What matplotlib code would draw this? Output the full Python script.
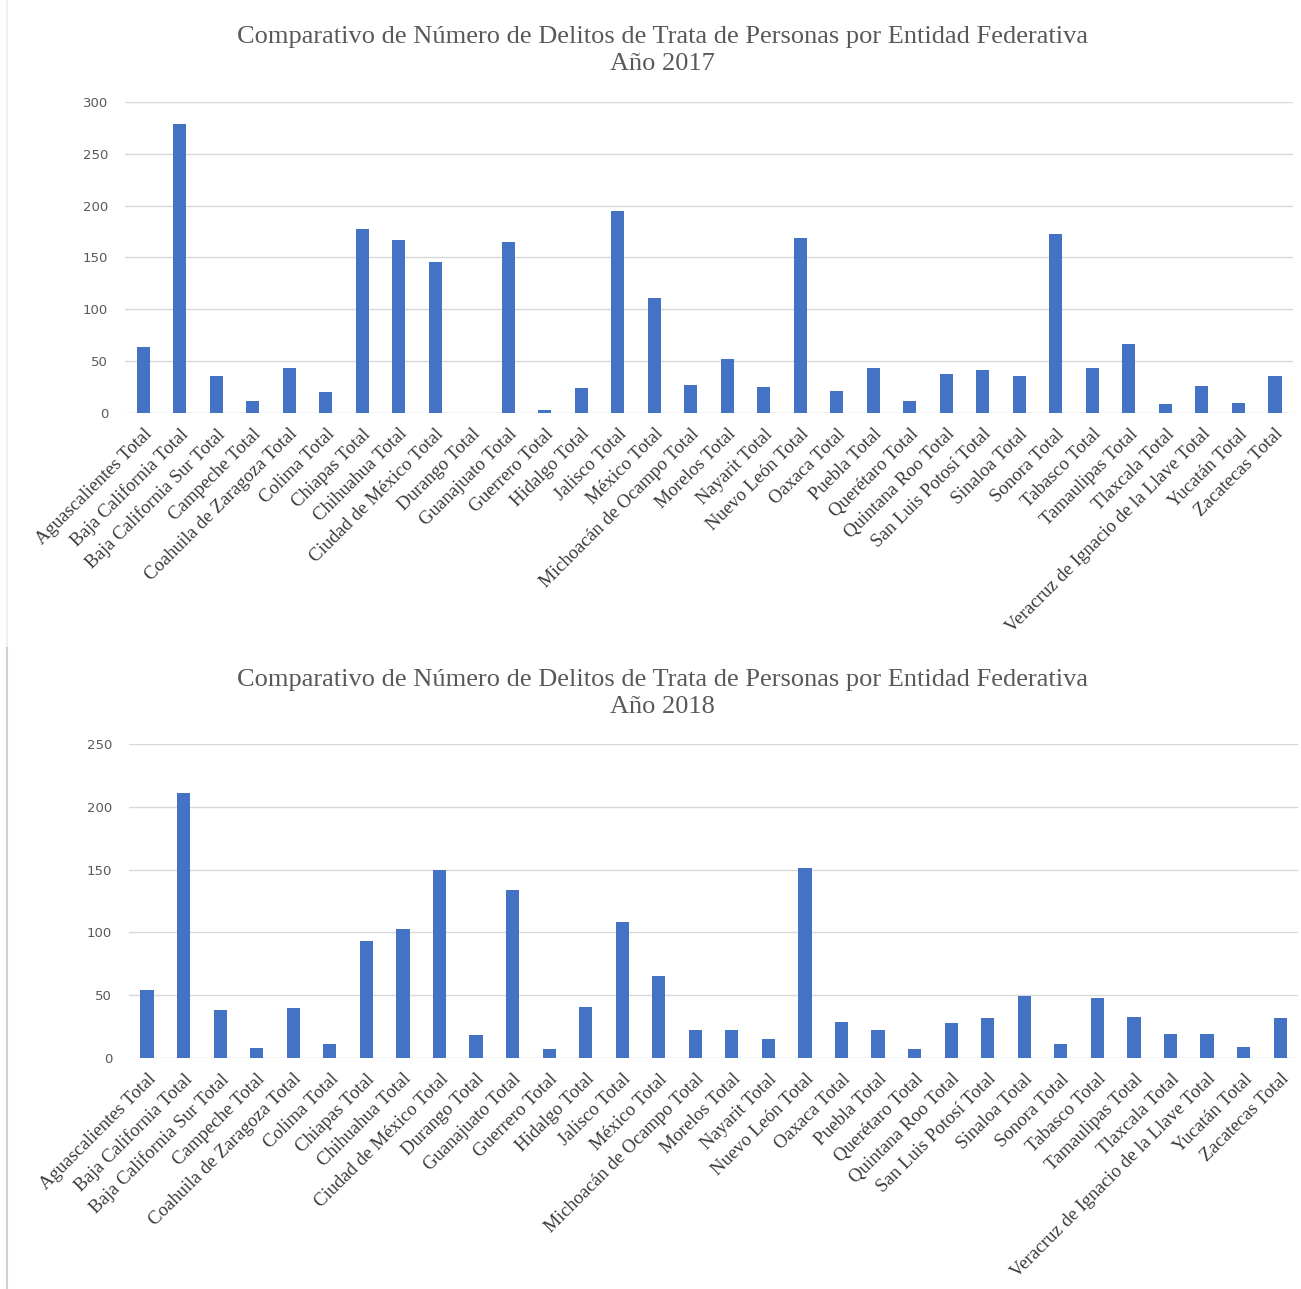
"""
Bar charts of trafficking-in-persons offences by federal entity, 2017 and 2018.
"""

# Third party imports
import matplotlib.pyplot as plt
from matplotlib.lines import Line2D

ENTIDADES = [
    "Aguascalientes Total",
    "Baja California Total",
    "Baja California Sur Total",
    "Campeche Total",
    "Coahuila de Zaragoza Total",
    "Colima Total",
    "Chiapas Total",
    "Chihuahua Total",
    "Ciudad de México Total",
    "Durango Total",
    "Guanajuato Total",
    "Guerrero Total",
    "Hidalgo Total",
    "Jalisco Total",
    "México Total",
    "Michoacán de Ocampo Total",
    "Morelos Total",
    "Nayarit Total",
    "Nuevo León Total",
    "Oaxaca Total",
    "Puebla Total",
    "Querétaro Total",
    "Quintana Roo Total",
    "San Luis Potosí Total",
    "Sinaloa Total",
    "Sonora Total",
    "Tabasco Total",
    "Tamaulipas Total",
    "Tlaxcala Total",
    "Veracruz de Ignacio de la Llave Total",
    "Yucatán Total",
    "Zacatecas Total",
]

DELITOS_2017 = [
    64, 279, 36, 12, 43, 20, 177, 167, 146, 0, 165, 3, 24, 195, 111, 27,
    52, 25, 169, 21, 43, 12, 38, 41, 36, 173, 43, 67, 9, 26, 10, 36,
]

DELITOS_2018 = [
    54, 211, 38, 8, 40, 11, 93, 103, 150, 18, 134, 7, 41, 108, 65, 22,
    22, 15, 151, 29, 22, 7, 28, 32, 49, 11, 48, 33, 19, 19, 9, 32,
]

TITULO = "Comparativo de Número de Delitos de Trata de Personas por Entidad Federativa"

BAR_COLOR = "#4472C4"
GRID_COLOR = "#d9d9d9"
TEXT_COLOR = "#595959"
LABEL_COLOR = "#3a3a3a"


def plot_year(fig, rect, values, year, ymax, title_y):
    """
    Draw one year's bar chart into the given figure rectangle.
    """
    ax = fig.add_axes(rect)
    x = range(len(ENTIDADES))
    ax.bar(x, values, width=0.36, color=BAR_COLOR, zorder=3)

    ax.set_xlim(-0.5, len(ENTIDADES) - 0.5)
    ax.set_ylim(0, ymax)
    ax.set_yticks(range(0, ymax + 1, 50))
    ax.yaxis.grid(True, color=GRID_COLOR, lw=1.0)
    ax.set_axisbelow(True)
    for spine in ax.spines.values():
        spine.set_visible(False)

    ax.tick_params(axis="both", length=0)
    ax.tick_params(axis="y", labelsize=9.5, labelcolor=TEXT_COLOR, pad=12)
    ax.set_xticks(list(x))
    ax.set_xticklabels(
        ENTIDADES,
        rotation=45,
        ha="right",
        va="top",
        rotation_mode="anchor",
        fontsize=13.5,
        family="Liberation Serif",
        color=LABEL_COLOR,
    )
    ax.tick_params(axis="x", pad=9)

    fig.text(
        0.509,
        title_y,
        f"{TITULO}\nAño {year}",
        ha="center",
        va="center",
        fontsize=19,
        family="Liberation Serif",
        color=TEXT_COLOR,
        linespacing=1.3,
    )
    return ax


fig = plt.figure(figsize=(13.01, 12.89), dpi=100)

plot_year(fig, [0.096, 0.6796, 0.898, 0.2413], DELITOS_2017, 2017, 300, 0.961)
plot_year(fig, [0.099, 0.1792, 0.899, 0.2436], DELITOS_2018, 2018, 250, 0.462)

# Left border of the two stacked panels.
fig.add_artist(
    Line2D([0.0055, 0.0055], [0.497, 1.0], color="#f0f0f0", lw=1.5)
)
fig.add_artist(
    Line2D([0.0055, 0.0055], [0.0, 0.497], color="#d0d0d0", lw=1.5)
)

fig.savefig("out.png", dpi=100, facecolor="white")
